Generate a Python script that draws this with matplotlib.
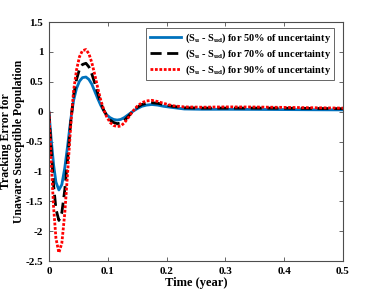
import numpy as np
import matplotlib
matplotlib.use("Agg")
import matplotlib.pyplot as plt
from matplotlib.ticker import FuncFormatter

plt.rcParams['font.family'] = ['Liberation Serif', 'DejaVu Serif']
plt.rcParams['font.weight'] = 'bold'
plt.rcParams['mathtext.fontset'] = 'custom'
plt.rcParams['mathtext.rm'] = 'Liberation Serif:bold'
plt.rcParams['mathtext.it'] = 'Liberation Serif:bold'
plt.rcParams['mathtext.bf'] = 'Liberation Serif:bold'
plt.rcParams['axes.unicode_minus'] = False

# time (year)
t = [0, 0.004, 0.008, 0.012, 0.017, 0.022, 0.027, 0.032, 0.037, 0.042,
     0.047, 0.052, 0.057, 0.063, 0.068, 0.073, 0.078, 0.083, 0.088, 0.093,
     0.098, 0.104, 0.11, 0.116, 0.122, 0.128, 0.135, 0.142, 0.15, 0.158,
     0.166, 0.175, 0.185, 0.195, 0.21, 0.23, 0.26, 0.3, 0.35, 0.4,
     0.45, 0.5]

err50 = [0, -0.47, -0.89, -1.18, -1.31, -1.22, -0.94, -0.56, -0.14, 0.19,
         0.39, 0.51, 0.57, 0.58, 0.54, 0.46, 0.34, 0.22, 0.11, 0.02,
         -0.05, -0.1, -0.13, -0.14, -0.13, -0.1, -0.05, 0.0, 0.05, 0.09,
         0.11, 0.12, 0.11, 0.09, 0.07, 0.045, 0.04, 0.04, 0.038, 0.035,
         0.032, 0.03]

err70 = [0, -0.65, -1.23, -1.63, -1.82, -1.69, -1.31, -0.77, -0.19, 0.27,
         0.54, 0.71, 0.79, 0.81, 0.75, 0.63, 0.48, 0.31, 0.15, 0.03,
         -0.06, -0.14, -0.18, -0.2, -0.19, -0.15, -0.08, 0.0, 0.07, 0.12,
         0.14, 0.15, 0.14, 0.12, 0.09, 0.065, 0.06, 0.06, 0.06, 0.058,
         0.054, 0.05]

err90 = [0, -0.85, -1.6, -2.12, -2.36, -2.2, -1.7, -1.0, -0.25, 0.35,
         0.7, 0.92, 1.02, 1.04, 0.97, 0.82, 0.62, 0.4, 0.2, 0.04,
         -0.08, -0.18, -0.23, -0.25, -0.24, -0.19, -0.1, 0.0, 0.09, 0.15,
         0.18, 0.19, 0.17, 0.14, 0.1, 0.08, 0.075, 0.08, 0.078, 0.072,
         0.066, 0.06]

labels = [r'(S$_{\mathrm{u}}$ - S$_{\mathrm{ud}}$) for 50% of uncertainty',
          r'(S$_{\mathrm{u}}$ - S$_{\mathrm{ud}}$) for 70% of uncertainty',
          r'(S$_{\mathrm{u}}$ - S$_{\mathrm{ud}}$) for 90% of uncertainty']

fig = plt.figure(figsize=(3.79, 2.94), dpi=100)
ax = fig.add_axes([0.129, 0.112, 0.776, 0.813])

ax.plot(t, err50, color=(0, 0.447, 0.741), lw=2, label=labels[0])
ax.plot(t, err70, color='black', lw=2, ls=(0, (4, 2)), label=labels[1])
ax.plot(t, err90, color='red', lw=2, ls=(0, (1, 0.6)), label=labels[2])

ax.set_xlim(0, 0.5)
ax.set_ylim(-2.5, 1.5)
ax.set_xticks([0, 0.1, 0.2, 0.3, 0.4, 0.5])
ax.set_yticks([-2.5, -2, -1.5, -1, -0.5, 0, 0.5, 1, 1.5])
ax.yaxis.set_major_formatter(FuncFormatter(lambda v, p: '%g' % v))
ax.xaxis.set_major_formatter(FuncFormatter(lambda v, p: '%g' % v))
ax.tick_params(direction='in', top=True, right=True, labelsize=8, length=3,
               width=0.6, color='0.3', pad=4)
for s in ax.spines.values():
    s.set_color('0.3')
    s.set_linewidth(0.8)

ax.set_xlabel('Time (year)', fontsize=9, fontweight='bold', labelpad=1)
# y label placed in figure coords so it stays inside the canvas
fig.text(0.034, 0.519, 'Tracking Error for\nUnaware Susceptible Population',
         rotation=90, ha='center', va='center', multialignment='center',
         fontsize=8.5, fontweight='bold', linespacing=1.1)

leg = ax.legend(loc='upper right', bbox_to_anchor=(0.97, 0.975), fontsize=7.5,
                handlelength=3.0, handletextpad=0.4, borderpad=0.3,
                labelspacing=0.25, fancybox=False, framealpha=1,
                borderaxespad=0)
leg.get_frame().set_edgecolor('0.3')
leg.get_frame().set_linewidth(0.6)

plt.savefig('out.png', dpi=100)
